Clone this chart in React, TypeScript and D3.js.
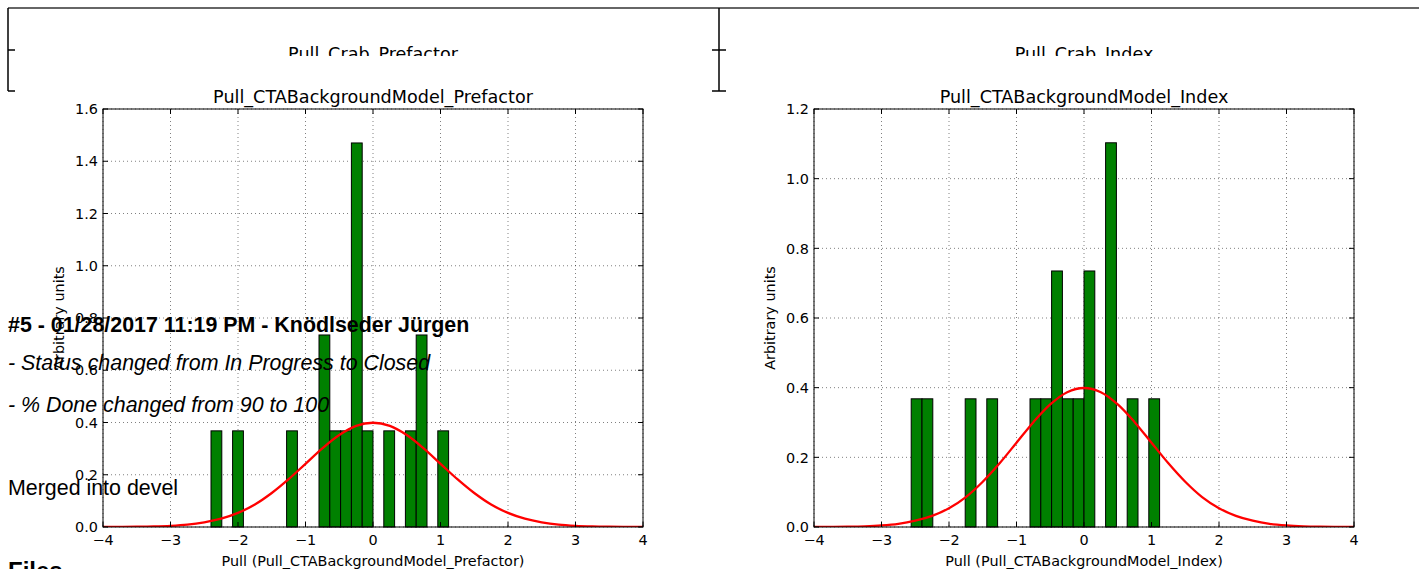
import React from 'react';
import * as d3 from 'd3';

// histogram bins (left edges) and densities
const binWidth = 0.16;
const prefactorBinStarts = [-2.40, -2.08, -1.28, -0.80, -0.64, -0.48, -0.32, -0.16, 0.16, 0.48, 0.64, 0.96];
const prefactorDensity = [0.368, 0.368, 0.368, 0.735, 0.368, 0.368, 1.47, 0.368, 0.368, 0.368, 0.735, 0.368];
const indexBinStarts = [-2.56, -2.40, -1.76, -1.44, -0.80, -0.64, -0.48, -0.32, -0.16, 0.00, 0.32, 0.64, 0.96];
const indexDensity = [0.368, 0.368, 0.368, 0.368, 0.368, 0.368, 0.735, 0.368, 0.368, 0.735, 1.103, 0.368, 0.368];

// red reference curve
const curveX = [-4, -3.75, -3.5, -3.25, -3, -2.75, -2.5, -2.25, -2, -1.75, -1.5, -1.25, -1, -0.75, -0.5, -0.25, 0,
  0.25, 0.5, 0.75, 1, 1.25, 1.5, 1.75, 2, 2.25, 2.5, 2.75, 3, 3.25, 3.5, 3.75, 4];
const curveY = [0.0001, 0.0004, 0.0009, 0.002, 0.0044, 0.009, 0.018, 0.032, 0.054, 0.086, 0.130, 0.183, 0.242, 0.301, 0.352, 0.387, 0.399,
  0.387, 0.352, 0.301, 0.242, 0.183, 0.130, 0.086, 0.054, 0.032, 0.018, 0.009, 0.0044, 0.002, 0.0009, 0.0004, 0.0001];

const xTicks = [-4, -3, -2, -1, 0, 1, 2, 3, 4];
const prefactorYTicks = [0, 0.2, 0.4, 0.6, 0.8, 1.0, 1.2, 1.4, 1.6];
const indexYTicks = [0, 0.2, 0.4, 0.6, 0.8, 1.0, 1.2];

const mplFont = '"DejaVu Sans", sans-serif';
const pageFont = '"Liberation Sans", Arial, sans-serif';

type PanelProps = {
  id: string;
  left: number;
  title: string;
  prevTitle: string;
  xLabel: string;
  yMax: number;
  yTicks: number[];
  starts: number[];
  density: number[];
};

const Panel = ({ id, left, title, prevTitle, xLabel, yMax, yTicks, starts, density }: PanelProps) => {
  const top = 109, bottom = 527, width = 540;
  const x = d3.scaleLinear().domain([-4, 4]).range([left, left + width]);
  const y = d3.scaleLinear().domain([0, yMax]).range([bottom, top]);
  const line = d3.line<number>().x((_, i) => x(curveX[i])).y(d => y(d)).curve(d3.curveCatmullRom);
  const cx = left + width / 2;
  const fmt = (v: number) => (v < 0 ? '\u2212' + Math.abs(v) : String(v));

  return (
    <g>
      <defs>
        <clipPath id={`plot-${id}`}>
          <rect x={left} y={top} width={width} height={bottom - top} />
        </clipPath>
        <clipPath id={`prev-${id}`}>
          <rect x={left - 100} y={0} width={width + 200} height={56} />
        </clipPath>
      </defs>

      {/* title of the plot above, cut off by the page */}
      <text x={cx} y={60} textAnchor="middle" fontFamily={mplFont} fontSize={17.6}
        clipPath={`url(#prev-${id})`}>{prevTitle}</text>

      {/* grid */}
      {xTicks.map(t => (
        <line key={'gx' + t} x1={x(t)} x2={x(t)} y1={top} y2={bottom}
          stroke="#000" strokeWidth={0.5} strokeDasharray="1,3" />
      ))}
      {yTicks.map(t => (
        <line key={'gy' + t} x1={left} x2={left + width} y1={y(t)} y2={y(t)}
          stroke="#000" strokeWidth={0.5} strokeDasharray="1,3" />
      ))}

      {/* bars */}
      {starts.map((s, i) => (
        <rect key={'b' + i} x={x(s)} y={y(density[i])} width={x(s + binWidth) - x(s)}
          height={y(0) - y(density[i])} fill="#008000" stroke="#000" strokeWidth={1} />
      ))}

      <path d={line(curveY) || ''} fill="none" stroke="red" strokeWidth={2.3}
        clipPath={`url(#plot-${id})`} />

      {/* frame and inward ticks */}
      <rect x={left} y={top} width={width} height={bottom - top} fill="none" stroke="#000" strokeWidth={1} />
      {xTicks.map(t => (
        <g key={'tx' + t}>
          <line x1={x(t)} x2={x(t)} y1={bottom} y2={bottom - 5} stroke="#000" />
          <line x1={x(t)} x2={x(t)} y1={top} y2={top + 5} stroke="#000" />
          <text x={x(t)} y={545} textAnchor="middle" fontFamily={mplFont} fontSize={14.4}>{fmt(t)}</text>
        </g>
      ))}
      {yTicks.map(t => (
        <g key={'ty' + t}>
          <line x1={left} x2={left + 5} y1={y(t)} y2={y(t)} stroke="#000" />
          <line x1={left + width} x2={left + width - 5} y1={y(t)} y2={y(t)} stroke="#000" />
          <text x={left - 5} y={y(t)} dy="0.36em" textAnchor="end" fontFamily={mplFont} fontSize={14.4}>
            {t.toFixed(1)}
          </text>
        </g>
      ))}

      <text x={cx} y={103} textAnchor="middle" fontFamily={mplFont} fontSize={17.6}>{title}</text>
      <text x={cx} y={566} textAnchor="middle" fontFamily={mplFont} fontSize={14.4}>{xLabel}</text>
      <text transform={`translate(${left - 39},${(top + bottom) / 2}) rotate(-90)`} textAnchor="middle"
        fontFamily={mplFont} fontSize={14.4}>Arbitrary units</text>
    </g>
  );
};

const App = () => {
  return (
    <div style={{ position: 'absolute', left: 0, top: 0, background: '#fff' }}>
      <svg width={1419} height={569} style={{ display: 'block' }}>
        <rect width={1419} height={569} fill="#fff" />

        {/* bottom edge of the table above */}
        <line x1={8} x2={1419} y1={8} y2={8} stroke="#333" strokeWidth={1.5} />
        <line x1={8} x2={8} y1={8} y2={91} stroke="#000" strokeWidth={1.5} />
        <line x1={8} x2={15} y1={50} y2={50} stroke="#000" strokeWidth={1.5} />
        <line x1={8} x2={15} y1={91} y2={91} stroke="#000" strokeWidth={1.5} />
        <line x1={719} x2={719} y1={8} y2={91} stroke="#000" strokeWidth={1.5} />
        <line x1={712} x2={726} y1={50} y2={50} stroke="#000" strokeWidth={1.5} />
        <line x1={712} x2={726} y1={91} y2={91} stroke="#000" strokeWidth={1.5} />

        <Panel id="pref" left={103} title="Pull_CTABackgroundModel_Prefactor" prevTitle="Pull_Crab_Prefactor"
          xLabel="Pull (Pull_CTABackgroundModel_Prefactor)" yMax={1.6} yTicks={prefactorYTicks}
          starts={prefactorBinStarts} density={prefactorDensity} />
        <Panel id="idx" left={814} title="Pull_CTABackgroundModel_Index" prevTitle="Pull_Crab_Index"
          xLabel="Pull (Pull_CTABackgroundModel_Index)" yMax={1.2} yTicks={indexYTicks}
          starts={indexBinStarts} density={indexDensity} />

        {/* page text drawn over the figure */}
        <text x={8} y={331.5} fontFamily={pageFont} fontWeight="bold" fontSize={21.4}>
          #5 - 01/28/2017 11:19 PM - Knödlseder Jürgen
        </text>
        <text x={8} y={370} fontFamily={pageFont} fontStyle="italic" fontSize={21.4}>
          - Status changed from In Progress to Closed
        </text>
        <text x={8} y={412} fontFamily={pageFont} fontStyle="italic" fontSize={21.4}>
          - % Done changed from 90 to 100
        </text>
        <text x={8} y={495} fontFamily={pageFont} fontSize={21.4}>Merged into devel</text>
        <text x={8} y={579} fontFamily={pageFont} fontWeight="bold" fontSize={24}>Files</text>
      </svg>
    </div>
  );
};

export default App;
